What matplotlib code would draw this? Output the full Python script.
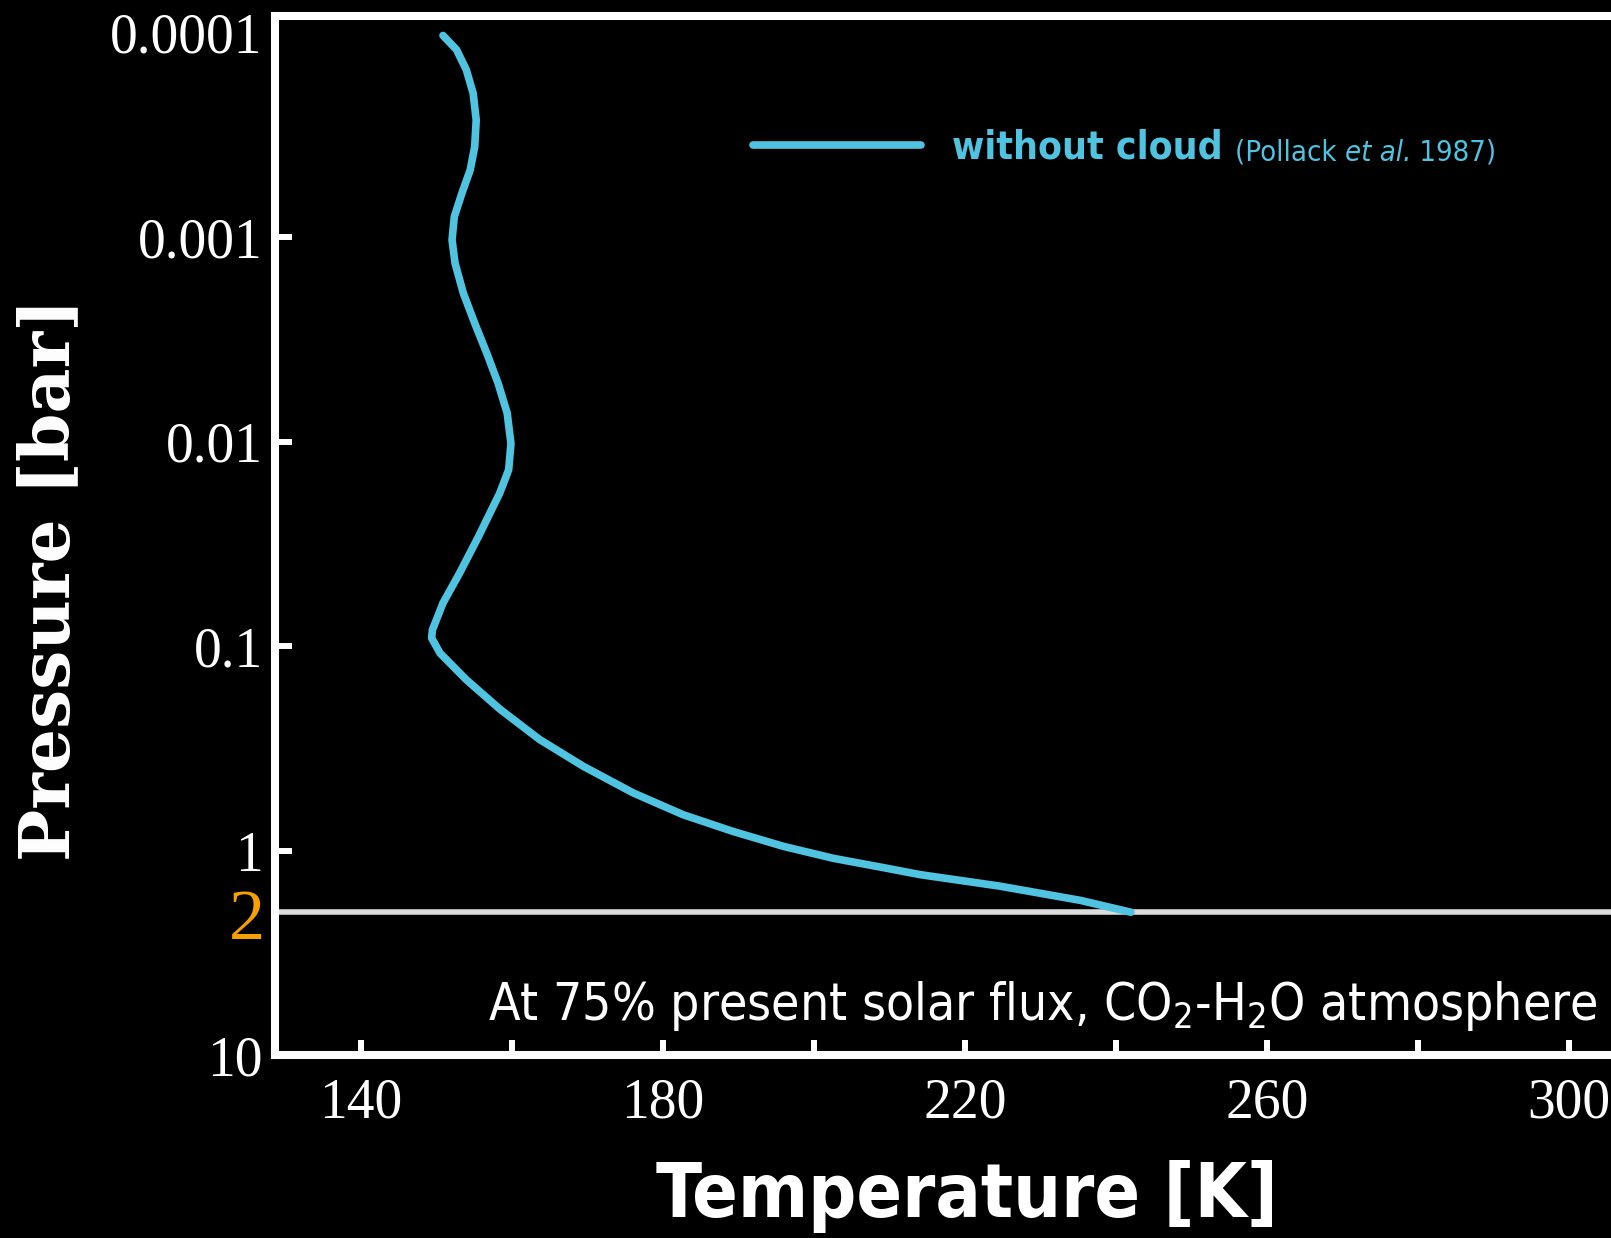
import matplotlib
matplotlib.use("Agg")
import matplotlib.pyplot as plt
from matplotlib.ticker import NullLocator
from matplotlib.transforms import blended_transform_factory

# temperature profile without cloud, Pollack et al. 1987
temperature = [150.9, 152.7, 154.0, 154.9, 155.3, 155.1, 154.5, 153.4, 152.4, 152.1,
               152.5, 153.6, 155.1, 156.7, 158.2, 159.4, 159.9, 159.6, 158.4, 156.9,
               155.6, 153.1, 150.9, 149.5, 149.4, 150.5, 154.0, 158.5, 163.7, 169.5,
               176.1, 182.7, 189.3, 196.0, 202.6, 209.2, 214.1, 224.6, 235.3, 242.0]
pressure = [1.03e-4, 1.21e-4, 1.52e-4, 1.98e-4, 2.67e-4, 3.61e-4, 4.69e-4, 6.10e-4, 7.93e-4, 1.03e-3,
            1.34e-3, 1.88e-3, 2.63e-3, 3.69e-3, 5.18e-3, 7.24e-3, 1.02e-2, 1.37e-2, 1.79e-2, 2.32e-2,
            2.91e-2, 4.39e-2, 6.15e-2, 8.32e-2, 9.12e-2, 0.108, 0.146, 0.204, 0.286, 0.387,
            0.522, 0.667, 0.805, 0.953, 1.09, 1.21, 1.31, 1.49, 1.75, 2.0]
surface_pressure = 2.0

x_ticks = [140, 160, 180, 200, 220, 240, 260, 280, 300]
x_labels = ["140", "", "180", "", "220", "", "260", "", "300"]
y_ticks = [1e-4, 1e-3, 1e-2, 1e-1, 1, 10]
y_labels = ["0.0001", "0.001", "0.01", "0.1", "1", "10"]

CYAN = "#4fc3df"
ORANGE = "#f5a000"
SERIF = ["Liberation Serif", "DejaVu Serif"]
SANS = {"family": "DejaVu Sans", "stretch": "condensed"}

plt.rcParams["mathtext.fontset"] = "custom"
plt.rcParams["mathtext.rm"] = "DejaVu Sans:stretch=condensed"

fig = plt.figure(figsize=(16.11, 12.38), dpi=100, facecolor="black")
ax = fig.add_axes([0.1709, 0.1477, 0.8499, 0.839])
ax.set_facecolor("black")
ax.set_yscale("log")

ax.axhline(surface_pressure, color="#dcdcdc", lw=4, zorder=2)
ax.plot(temperature, pressure, color=CYAN, lw=5.5, solid_capstyle="round",
        solid_joinstyle="round", zorder=3, label="without cloud")

for side in ["left", "top", "bottom", "right"]:
    ax.spines[side].set_color("white")
    ax.spines[side].set_linewidth(5.8)

ax.set_xticks(x_ticks)
ax.set_xticklabels(x_labels, fontfamily=SERIF, fontsize=40)
ax.set_yticks(y_ticks)
ax.set_yticklabels(y_labels, fontfamily=SERIF, fontsize=40)
ax.yaxis.set_minor_locator(NullLocator())
ax.set_xlim(128.7, 310)
ax.set_ylim(10, 10 ** -4.08)
ax.tick_params(axis="x", direction="in", length=11, width=4.3, colors="white", pad=16)
ax.tick_params(axis="y", direction="in", length=12, width=4.3, colors="white", pad=9)
for t in (ax.yaxis.get_major_ticks()[0], ax.yaxis.get_major_ticks()[-1]):
    t.tick1line.set_visible(False)

# surface pressure marker on the left
trans = blended_transform_factory(ax.transAxes, ax.transData)
ax.annotate("2", xy=(-0.0075, surface_pressure), xycoords=trans, xytext=(0, -9),
            textcoords="offset pixels", ha="right", va="center",
            color=ORANGE, fontsize=52, fontfamily=SERIF, annotation_clip=False)

fig.text(0.031, 0.532, "Pressure [bar]", rotation=90, ha="center", va="center",
         color="white", fontsize=50, fontweight="bold", fontfamily="DejaVu Serif")
fig.text(0.600, 0.017, "Temperature [K]", ha="center", va="baseline",
         color="white", fontsize=54, fontweight="bold", **{"fontfamily": SANS["family"],
                                                          "fontstretch": SANS["stretch"]})
fig.text(0.9917, 0.176, r"At 75% present solar flux, CO$_2$-H$_2$O atmosphere",
         ha="right", va="baseline", color="white", fontsize=37,
         fontfamily=SANS["family"], fontstretch=SANS["stretch"])

leg = ax.legend(loc="center left", bbox_to_anchor=(0.4675, 0.8805),
                bbox_transform=fig.transFigure, frameon=False, borderpad=0,
                borderaxespad=0, handlelength=4.32, handletextpad=0.8,
                labelcolor=CYAN,
                prop={"family": SANS["family"], "stretch": SANS["stretch"],
                      "weight": "bold", "size": 28})
label = leg.get_texts()[0]
cite1 = ax.annotate("(Pollack ", xy=(1, 0), xycoords=label, xytext=(12, 0),
                    textcoords="offset pixels", va="bottom", ha="left", zorder=6,
                    color=CYAN, fontsize=21, fontfamily=SANS["family"],
                    fontstretch=SANS["stretch"])
cite2 = ax.annotate("et al.", xy=(1, 0), xycoords=cite1, va="bottom", ha="left",
                    zorder=6, color=CYAN, fontsize=21, fontstyle="italic",
                    fontfamily=SANS["family"], fontstretch=SANS["stretch"])
ax.annotate(" 1987)", xy=(1, 0), xycoords=cite2, va="bottom", ha="left", zorder=6,
            color=CYAN, fontsize=21, fontfamily=SANS["family"],
            fontstretch=SANS["stretch"])

fig.savefig("out.png", dpi=100, facecolor="black")
